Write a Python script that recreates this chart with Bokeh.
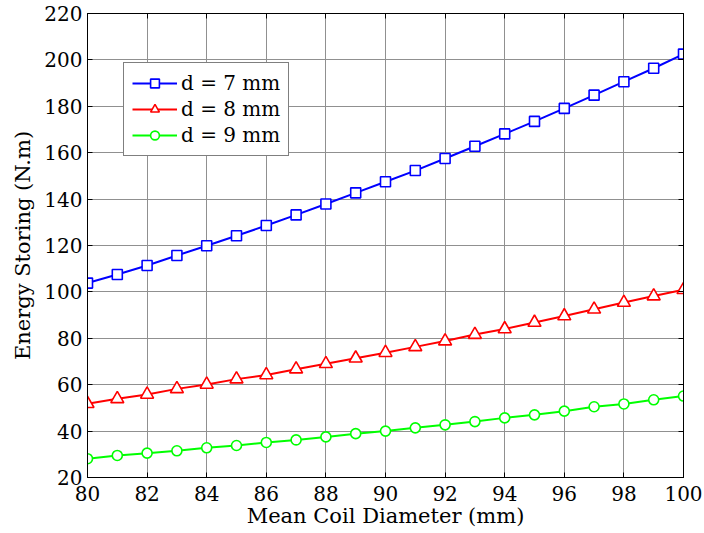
from bokeh.plotting import figure
from bokeh.models import LinearAxis, FixedTicker, Legend, LegendItem, Range1d, CustomLabelingPolicy
from bokeh.embed import file_html
from bokeh.resources import INLINE

diameter = [80, 81, 82, 83, 84, 85, 86, 87, 88, 89, 90, 91, 92, 93, 94, 95, 96, 97, 98, 99, 100]
d7 = [103.8, 107.5, 111.4, 115.7, 119.9, 124.2, 128.6, 133.2, 137.9, 142.7, 147.5,
      152.3, 157.5, 162.8, 168.1, 173.5, 179.1, 184.8, 190.6, 196.4, 202.5]
d8 = [51.8, 53.9, 55.8, 58.2, 60.1, 62.4, 64.2, 66.7, 69.0, 71.4, 73.8,
      76.3, 78.8, 81.6, 84.0, 86.8, 89.6, 92.5, 95.4, 98.2, 100.9]
d9 = [28.1, 29.5, 30.5, 31.5, 32.8, 33.8, 35.1, 36.2, 37.5, 38.9, 40.0,
      41.4, 42.7, 44.1, 45.7, 47.0, 48.6, 50.5, 51.7, 53.5, 55.1]
labels = ["d = 7 mm", "d = 8 mm", "d = 9 mm"]
colors = ["#0000ff", "#ff0000", "#00ff00"]
x_ticks = list(range(80, 101, 2))
y_ticks = list(range(20, 221, 20))

FONT = "DejaVu Serif"
TICK_FS = "20px"
LABEL_FS = "21px"

p = figure(width=704, height=533, output_backend="svg", toolbar_location=None,
           x_range=Range1d(80, 100), y_range=Range1d(20, 220),
           x_axis_label="Mean Coil Diameter (mm)", y_axis_label="Energy Storing (N.m)")
p.min_border_left = 87
p.min_border_right = 21
p.min_border_top = 13
p.min_border_bottom = 56
p.outline_line_color = "black"
p.outline_line_width = 1
p.outline_line_alpha = 1
p.background_fill_color = "white"
p.border_fill_color = "white"

for ax, ticks in ((p.xaxis[0], x_ticks), (p.yaxis[0], y_ticks)):
    ax.ticker = FixedTicker(ticks=ticks)
    ax.major_tick_in = 5
    ax.major_tick_out = 0
    ax.minor_tick_line_color = None
    ax.major_label_text_font = FONT
    ax.major_label_text_font_size = TICK_FS
    ax.major_label_text_color = "black"
    ax.axis_label_text_font = FONT
    ax.axis_label_text_font_size = LABEL_FS
    ax.axis_label_text_font_style = "normal"
    ax.axis_label_text_color = "black"
    ax.axis_line_color = "black"
    ax.major_tick_line_color = "black"
p.xaxis[0].major_label_standoff = 8
p.xaxis[0].axis_label_standoff = 0
p.yaxis[0].major_label_standoff = 5
p.yaxis[0].axis_label_standoff = 6

no_labels = CustomLabelingPolicy(code="for (const i of indices) { indices.unset(i) } return indices")
for loc, ticks in (("above", x_ticks), ("right", y_ticks)):
    ax = LinearAxis(ticker=FixedTicker(ticks=ticks), major_label_policy=no_labels)
    ax.major_tick_in = 5
    ax.major_tick_out = 0
    ax.minor_tick_line_color = None
    ax.major_label_text_font_size = "2px"
    ax.major_label_standoff = 0
    ax.axis_line_color = "black"
    ax.major_tick_line_color = "black"
    p.add_layout(ax, loc)

p.xgrid[0].ticker = FixedTicker(ticks=x_ticks)
p.ygrid[0].ticker = FixedTicker(ticks=y_ticks)
p.grid.grid_line_color = "#909090"
p.grid.grid_line_width = 1

items = []
markers = ["square", "triangle", "circle"]
sizes = [10, 13, 10]
for ys, lab, col, mk, sz in zip((d7, d8, d9), labels, colors, markers, sizes):
    r1 = p.line(diameter, ys, line_color=col, line_width=2)
    r2 = p.scatter(diameter, ys, marker=mk, size=sz, line_color=col, line_width=1.6,
                   fill_color="white")
    items.append(LegendItem(label=lab, renderers=[r1, r2]))

leg = Legend(items=items, location=(36, 321))
leg.label_text_font = FONT
leg.label_text_font_size = TICK_FS
leg.label_text_color = "black"
leg.glyph_width = 45
leg.glyph_height = 22
leg.label_height = 22
leg.spacing = 2
leg.padding = 8
leg.margin = 0
leg.label_standoff = 4
leg.border_line_color = "black"
leg.border_line_width = 1
leg.background_fill_alpha = 1
p.add_layout(leg, "center")

open("out.html", "w").write(file_html(p, INLINE))
